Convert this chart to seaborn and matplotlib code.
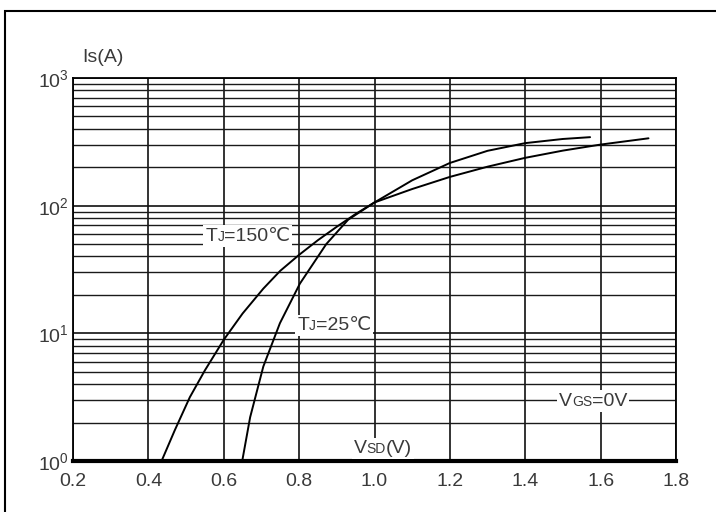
import matplotlib
matplotlib.use("Agg")
import matplotlib.pyplot as plt
from matplotlib.ticker import LogLocator, NullFormatter, FixedLocator
from matplotlib.patches import Rectangle
from matplotlib.offsetbox import TextArea, HPacker, AnnotationBbox
import seaborn as sns
import pandas as pd

# Data
v_150 = [0.435, 0.47, 0.51, 0.55, 0.60, 0.65, 0.705, 0.75, 0.80, 0.85, 0.90, 0.95,
         1.0, 1.1, 1.2, 1.3, 1.4, 1.5, 1.6, 1.727]
i_150 = [1.0, 1.74, 3.16, 5.13, 8.9, 14.3, 22.4, 30.9, 41.2, 53.7, 68.4, 86.1,
         106, 135, 168, 202, 237, 270, 301, 337]
v_25 = [0.649, 0.67, 0.705, 0.749, 0.802, 0.872, 0.93, 1.0, 1.1, 1.2, 1.3, 1.4, 1.5, 1.572]
i_25 = [1.0, 2.2, 5.5, 12, 24.5, 50, 77.6, 106, 158, 216, 269, 309, 333, 344]

x_ticks = [0.2, 0.4, 0.6, 0.8, 1.0, 1.2, 1.4, 1.6, 1.8]
x_tick_labels = ["0.2", "0.4", "0.6", "0.8", "1.0", "1.2", "1.4", "1.6", "1.8"]

df150 = pd.DataFrame({"V": v_150, "I": i_150})
df25 = pd.DataFrame({"V": v_25, "I": i_25})

sns.set_style("white")
plt.rcParams["font.family"] = ["Liberation Sans", "DejaVu Sans"]
plt.rcParams["mathtext.fontset"] = "custom"
plt.rcParams["mathtext.rm"] = "Liberation Sans"

W, H = 716, 512
fig = plt.figure(figsize=(W / 100, H / 100), dpi=100)
ax = fig.add_axes([73 / W, 1 - 461 / H, (676 - 73) / W, (461 - 78) / H])

ax.set_yscale("log")
ax.set_xlim(0.2, 1.8)
ax.set_ylim(1, 1000)
ax.yaxis.set_minor_locator(LogLocator(base=10, subs=range(2, 10)))
ax.yaxis.set_minor_formatter(NullFormatter())
ax.xaxis.set_major_locator(FixedLocator(x_ticks))
ax.set_xticklabels(x_tick_labels)

ax.grid(True, which="major", axis="both", color="#111111", lw=1.2)
ax.grid(True, which="minor", axis="y", color="#1a1a1a", lw=1.0)
ax.set_axisbelow(True)

sns.lineplot(data=df150, x="V", y="I", ax=ax, color="black", lw=1.4, sort=False)
sns.lineplot(data=df25, x="V", y="I", ax=ax, color="black", lw=1.4, sort=False)

ax.set_xlabel("")
ax.set_ylabel("")

txtc = "#3a3a3a"
ax.tick_params(axis="both", which="both", length=0, labelsize=14, colors=txtc)
ax.tick_params(axis="x", pad=9)
ax.tick_params(axis="y", pad=3)

for s in ["top", "right", "left"]:
    ax.spines[s].set_color("black")
    ax.spines[s].set_linewidth(1.3)
ax.spines["bottom"].set_color("black")
ax.spines["bottom"].set_linewidth(3)


def label(parts, x, y):
    children = [TextArea(t, textprops=dict(fontsize=sz, color=txtc)) for t, sz in parts]
    pack = HPacker(children=children, align="baseline", pad=0, sep=0)
    ab = AnnotationBbox(pack, (x, y), xycoords="data", frameon=True, pad=0.15,
                        box_alignment=(0.5, 0.5),
                        bboxprops=dict(facecolor="white", edgecolor="none"))
    ab.set_zorder(5)
    ax.add_artist(ab)


label([("T", 14), ("J", 10), ("=150℃", 14)], 0.664, 57.8)
label([("T", 14), ("J", 10), ("=25℃", 14)], 0.893, 11.6)
label([("V", 14), ("SD", 10), ("(V)", 14)], 1.022, 1.26)
label([("V", 14), ("GS", 10), ("=0V", 14)], 1.58, 2.95)

fig.text(103 / W, 1 - 57 / H, "Is(A)", fontsize=14, color=txtc, ha="center", va="center")

fig.add_artist(Rectangle((5 / W, -0.2), 1.5, (H - 11) / H + 0.2, transform=fig.transFigure,
                         fill=False, lw=1.5, edgecolor="black"))

fig.savefig("out.png", dpi=100)
